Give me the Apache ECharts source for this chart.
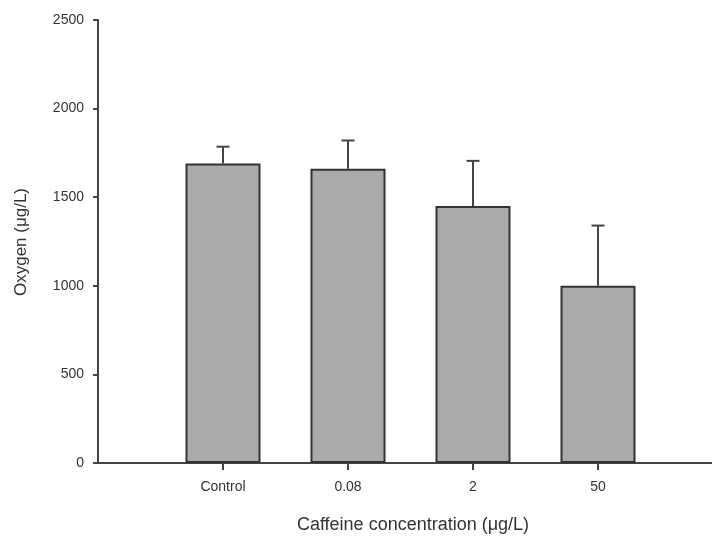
<!DOCTYPE html>
<html>
<head>
<meta charset="utf-8">
<title>Oxygen vs caffeine concentration</title>
<script src="https://cdn.jsdelivr.net/npm/echarts@6/dist/echarts.min.js"></script>
<style>
  html, body { margin: 0; padding: 0; background: #ffffff; }
  #chart { width: 712px; height: 537px; }
</style>
</head>
<body>
<div id="chart"></div>
<script>
// Treatment groups and measured dissolved oxygen (mean and upper error)
const categories = ['Control', '0.08', '2', '50'];
const positions = [1, 2, 3, 4];
const means = [1690, 1660, 1450, 1000];
const errors = [95, 160, 255, 340];
const yTicks = [0, 500, 1000, 1500, 2000, 2500];

const FONT = 'Liberation Sans, Arial, sans-serif';
const AXIS_COLOR = '#444';
const TEXT_COLOR = '#333333';

const barData = positions.map((x, i) => [x, means[i]]);
const errData = positions.map((x, i) => [x, means[i], means[i] + errors[i]]);

const chart = echarts.init(document.getElementById('chart'), null, { renderer: 'canvas' });

chart.setOption({
  backgroundColor: '#ffffff',
  animation: false,
  grid: { left: 98, right: 0, top: 20, bottom: 74, containLabel: false },
  xAxis: {
    type: 'value',
    min: 0,
    max: 4.912,
    interval: 1,
    splitLine: { show: false },
    axisLine: { show: true, lineStyle: { color: AXIS_COLOR, width: 2 } },
    axisTick: {
      show: true,
      customValues: positions,
      length: 7,
      lineStyle: { color: AXIS_COLOR, width: 2 }
    },
    axisLabel: {
      show: true,
      customValues: positions,
      margin: 17,
      color: TEXT_COLOR,
      fontFamily: FONT,
      fontSize: 14,
      formatter: v => categories[positions.indexOf(v)] || ''
    }
  },
  yAxis: {
    type: 'value',
    min: yTicks[0],
    max: yTicks[yTicks.length - 1],
    interval: 500,
    splitLine: { show: false },
    axisLine: { show: true, lineStyle: { color: AXIS_COLOR, width: 2 } },
    axisTick: { show: true, length: 5, lineStyle: { color: AXIS_COLOR, width: 2 } },
    axisLabel: {
      margin: 14,
      color: TEXT_COLOR,
      fontFamily: FONT,
      fontSize: 14,
      formatter: v => String(v)
    }
  },
  graphic: [
    {
      type: 'text',
      x: 413,
      y: 525,
      style: {
        text: 'Caffeine concentration (μg/L)',
        fill: TEXT_COLOR,
        font: '18px ' + FONT,
        textAlign: 'center',
        textVerticalAlign: 'middle'
      }
    },
    {
      type: 'text',
      x: 21,
      y: 242,
      rotation: Math.PI / 2,
      style: {
        text: 'Oxygen (μg/L)',
        fill: TEXT_COLOR,
        font: '17px ' + FONT,
        textAlign: 'center',
        textVerticalAlign: 'middle'
      }
    }
  ],
  series: [
    {
      type: 'bar',
      data: barData,
      barWidth: 75,
      itemStyle: { color: '#aaaaaa', borderColor: '#333333', borderWidth: 2 },
      z: 2
    },
    {
      type: 'custom',
      data: errData,
      z: 3,
      renderItem: function (params, api) {
        const x = api.value(0);
        const base = api.coord([x, api.value(1)]);
        const top = api.coord([x, api.value(2)]);
        const half = 6.5;
        const style = { stroke: '#444', lineWidth: 2 };
        return {
          type: 'group',
          children: [
            { type: 'line', shape: { x1: base[0], y1: base[1], x2: top[0], y2: top[1] }, style: style },
            { type: 'line', shape: { x1: top[0] - half, y1: top[1], x2: top[0] + half, y2: top[1] }, style: style }
          ]
        };
      }
    }
  ]
});
</script>
</body>
</html>
